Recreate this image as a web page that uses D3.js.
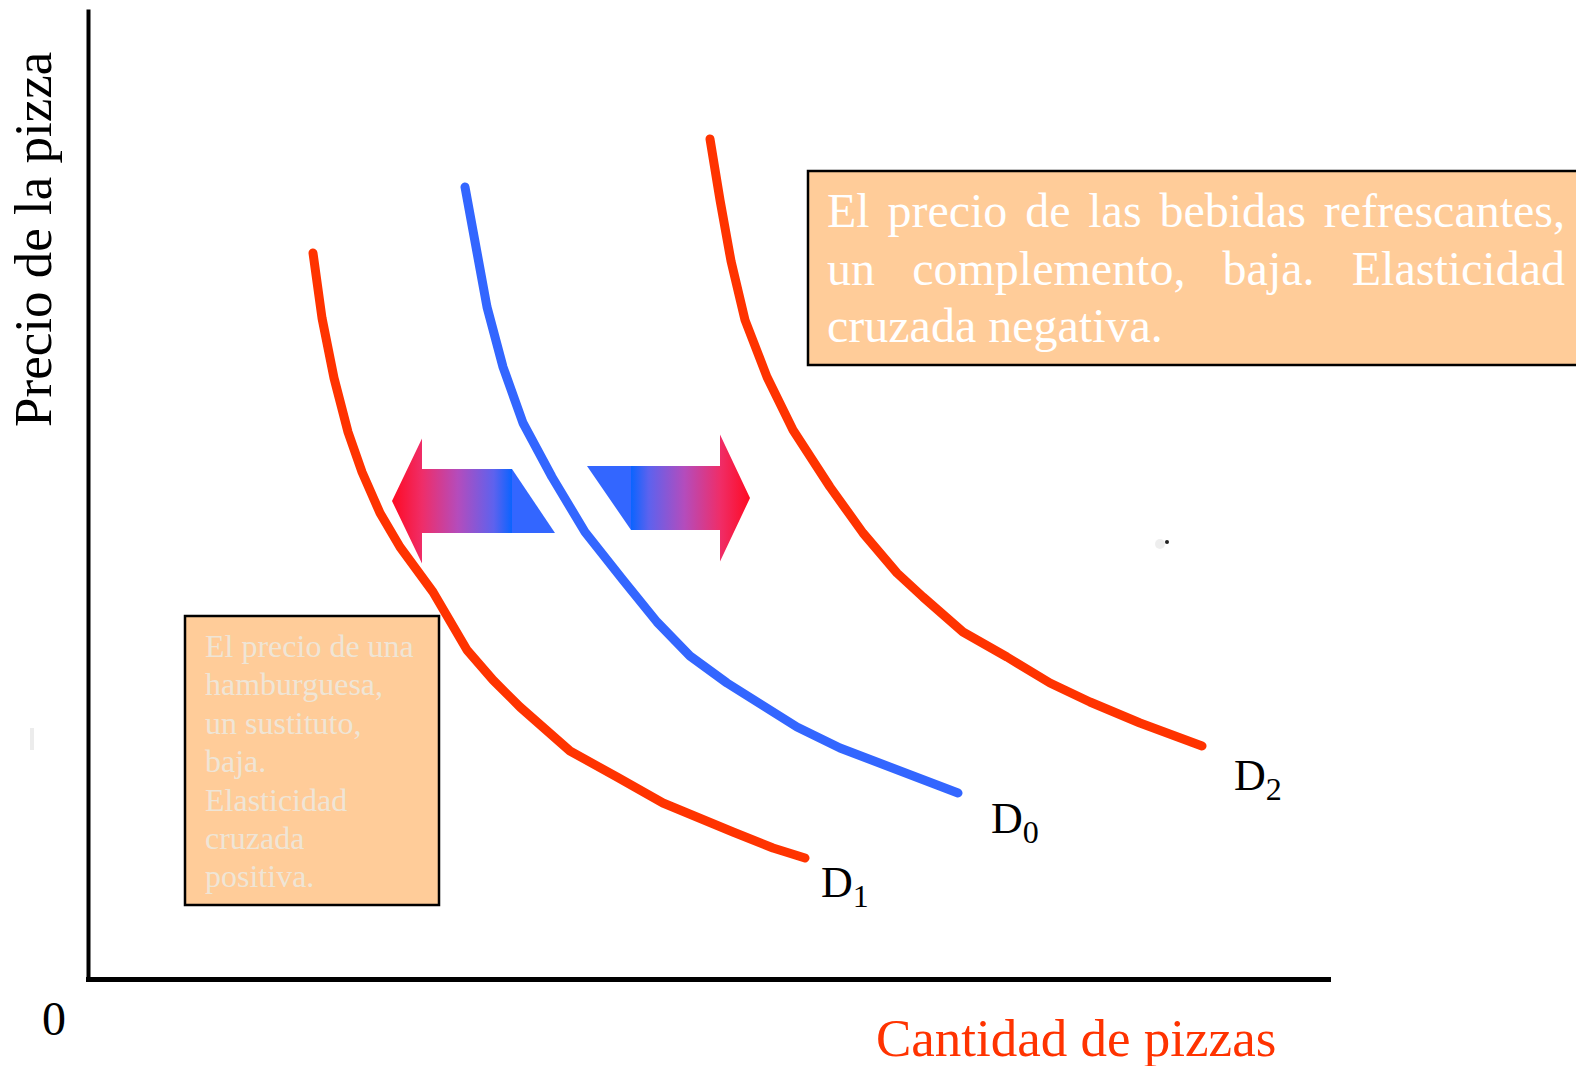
<!DOCTYPE html>
<html>
<head>
<meta charset="utf-8">
<script src="https://cdn.jsdelivr.net/npm/d3@7"></script>
<style>
  html, body { margin: 0; padding: 0; background: #fff; overflow: hidden; }
  svg { display: block; }
  text { font-family: "Liberation Serif", "Times New Roman", serif; }
</style>
</head>
<body>
<svg id="chart" width="1576" height="1066"></svg>
<script>
// Demand curves (quantity, price)
const d0Qty   = [37.7, 39.9, 41.5, 43.5, 46.4, 49.7, 53.5, 56.9, 60.2, 63.9, 70.9, 75.2, 87.0];
const d0Price = [79.2, 67.2, 61.2, 55.6, 50.2, 44.7, 39.9, 35.7, 32.3, 29.6, 25.2, 23.1, 18.6];

const d1Qty   = [22.5, 23.4, 24.6, 26.0, 27.4, 29.2, 31.2, 34.5, 37.9, 40.5, 43.2, 48.2, 52.9, 57.5, 64.5, 68.5, 71.7];
const d1Price = [72.6, 66.1, 60.1, 54.7, 50.7, 46.6, 43.2, 38.7, 32.9, 29.9, 27.2, 22.8, 20.2, 17.6, 14.7, 13.1, 12.1];

const d2Qty   = [62.2, 63.2, 64.3, 65.7, 67.9, 70.5, 74.2, 77.5, 80.9, 83.5, 87.5, 91.9, 96.2, 100.2, 105.2, 111.4];
const d2Price = [84.0, 77.9, 71.8, 65.9, 60.2, 54.9, 49.2, 44.6, 40.6, 38.2, 34.7, 32.2, 29.6, 27.7, 25.6, 23.3];

// curve labels
const curveNames = ["D", "D", "D"];
const curveSubs  = ["0", "1", "2"];
const labelQty   = [90.3, 73.3, 114.6];
const labelPrice = [14.6, 8.2, 18.9];

// texts
const yTitle = "Precio de la pizza";
const xTitle = "Cantidad de pizzas";
const originLabel = "0";
const topBoxLines = ["El precio de las bebidas refrescantes,", "un complemento, baja. Elasticidad", "cruzada negativa."];
const sideBoxLines = ["El precio de una", "hamburguesa,", "un sustituto,", "baja.", "Elasticidad", "cruzada", "positiva."];

const svg = d3.select("#chart");
const W = 1576, H = 1066;

const x = d3.scaleLinear().domain([0, 124]).range([88, 1328]);
const y = d3.scaleLinear().domain([0, 97]).range([979, 9]);

const zip = (xs, ys) => xs.map((v, i) => ({ q: v, p: ys[i] }));

// gradients for the shift arrows
const defs = svg.append("defs");
function addGrad(id, xRed, xBlue) {
  const g = defs.append("linearGradient").attr("id", id)
    .attr("gradientUnits", "userSpaceOnUse")
    .attr("x1", xRed).attr("y1", 0).attr("x2", xBlue).attr("y2", 0);
  g.append("stop").attr("offset", "0%").attr("stop-color", "#ff0a22");
  g.append("stop").attr("offset", "25%").attr("stop-color", "#ef2d68");
  g.append("stop").attr("offset", "55%").attr("stop-color", "#b44cbc");
  g.append("stop").attr("offset", "85%").attr("stop-color", "#5d62ee");
  g.append("stop").attr("offset", "100%").attr("stop-color", "#0a64ff");
}
addGrad("gradLeft", x(30.4), x(42.4));
addGrad("gradRight", x(66.2), x(54.3));

// boxes
svg.append("rect")
  .attr("x", x(72.0)).attr("y", y(80.8))
  .attr("width", W + 10 - x(72.0)).attr("height", y(61.4) - y(80.8))
  .attr("fill", "#ffcc99").attr("stroke", "#000").attr("stroke-width", 2.5);

svg.append("rect")
  .attr("x", x(9.7)).attr("y", y(36.3))
  .attr("width", x(35.1) - x(9.7)).attr("height", y(7.4) - y(36.3))
  .attr("fill", "#ffcc99").attr("stroke", "#000").attr("stroke-width", 2.5);

// justified text in the upper box
const tb = svg.append("g").attr("fill", "#ffffff").attr("font-size", 48);
const tx0 = x(72.0) + 19, tx1 = 1565;
topBoxLines.forEach((line, li) => {
  const base = y(80.8) + 56 + li * 57.6;
  if (li === topBoxLines.length - 1) {
    tb.append("text").attr("x", tx0).attr("y", base).text(line);
    return;
  }
  const words = line.split(" ");
  const nodes = words.map(w => tb.append("text").attr("y", base).text(w));
  const widths = nodes.map(n => n.node().getComputedTextLength());
  const gap = (tx1 - tx0 - d3.sum(widths)) / (words.length - 1);
  let cx = tx0;
  nodes.forEach((n, i) => { n.attr("x", cx); cx += widths[i] + gap; });
});

// text in the side box
const sb = svg.append("g").attr("fill", "#efe5d6").attr("font-size", 32);
sideBoxLines.forEach((line, li) => {
  sb.append("text").attr("x", x(9.7) + 20).attr("y", y(36.3) + 41 + li * 38.4).text(line);
});

// shift arrows
const lc = 47.8, rc = 48.1;
const leftArrow = [[30.4, lc], [33.4, lc + 6.25], [33.4, lc + 3.2], [42.4, lc + 3.2], [42.4, lc - 3.2], [33.4, lc - 3.2], [33.4, lc - 6.25]];
const rightArrow = [[66.2, rc], [63.2, rc + 6.35], [63.2, rc + 3.2], [54.3, rc + 3.2], [54.3, rc - 3.2], [63.2, rc - 3.2], [63.2, rc - 6.35]];
const toPts = arr => arr.map(d => [x(d[0]), y(d[1])].join(",")).join(" ");

svg.append("polygon").attr("points", toPts(leftArrow)).attr("fill", "url(#gradLeft)");
svg.append("polygon").attr("points", toPts([[42.4, lc + 3.2], [42.4, lc - 3.2], [46.7, lc - 3.2]])).attr("fill", "#3366ff");
svg.append("polygon").attr("points", toPts(rightArrow)).attr("fill", "url(#gradRight)");
svg.append("polygon").attr("points", toPts([[49.9, rc + 3.2], [54.3, rc + 3.2], [54.3, rc - 3.2]])).attr("fill", "#3366ff");

// demand curves
const line = d3.line().x(d => x(d.q)).y(d => y(d.p)).curve(d3.curveLinear);
const curves = [
  { data: zip(d1Qty, d1Price), color: "#ff3300" },
  { data: zip(d0Qty, d0Price), color: "#3366ff" },
  { data: zip(d2Qty, d2Price), color: "#ff3300" }
];
svg.selectAll("path.curve").data(curves).enter().append("path")
  .attr("class", "curve")
  .attr("d", d => line(d.data))
  .attr("fill", "none")
  .attr("stroke", d => d.color)
  .attr("stroke-width", 9)
  .attr("stroke-linecap", "round")
  .attr("stroke-linejoin", "round");

// axes (no ticks)
svg.append("g").attr("transform", `translate(0,${y(0)})`)
  .call(d3.axisBottom(x).tickValues([]).tickSizeOuter(0))
  .call(g => g.select(".domain").attr("stroke", "#000").attr("stroke-width", 5).attr("stroke-linecap", "square"));
svg.append("g").attr("transform", `translate(${x(0)},0)`)
  .call(d3.axisLeft(y).tickValues([]).tickSizeOuter(0))
  .call(g => g.select(".domain").attr("stroke", "#000").attr("stroke-width", 4));

// curve labels
curveNames.forEach((nm, i) => {
  const t = svg.append("text").attr("x", x(labelQty[i])).attr("y", y(labelPrice[i]))
    .attr("font-size", 44).attr("fill", "#000");
  t.append("tspan").text(nm);
  t.append("tspan").attr("font-size", 32).attr("dy", 10).text(curveSubs[i]);
});

// axis titles
svg.append("text")
  .attr("transform", `translate(51,427) rotate(-90)`)
  .attr("font-size", 53).attr("fill", "#000").text(yTitle);

svg.append("text").attr("x", 876).attr("y", 1056)
  .attr("font-size", 53).attr("fill", "#ff3300").text(xTitle);

svg.append("text").attr("x", 42).attr("y", 1035)
  .attr("font-size", 48).attr("fill", "#000").text(originLabel);

// small specks in the original
svg.append("circle").attr("cx", 1167).attr("cy", 542).attr("r", 2).attr("fill", "#222");
svg.append("circle").attr("cx", 1160).attr("cy", 544).attr("r", 5).attr("fill", "#ddd").attr("opacity", 0.5);
svg.append("rect").attr("x", 30).attr("y", 728).attr("width", 4).attr("height", 22).attr("fill", "#ececec");
</script>
</body>
</html>
